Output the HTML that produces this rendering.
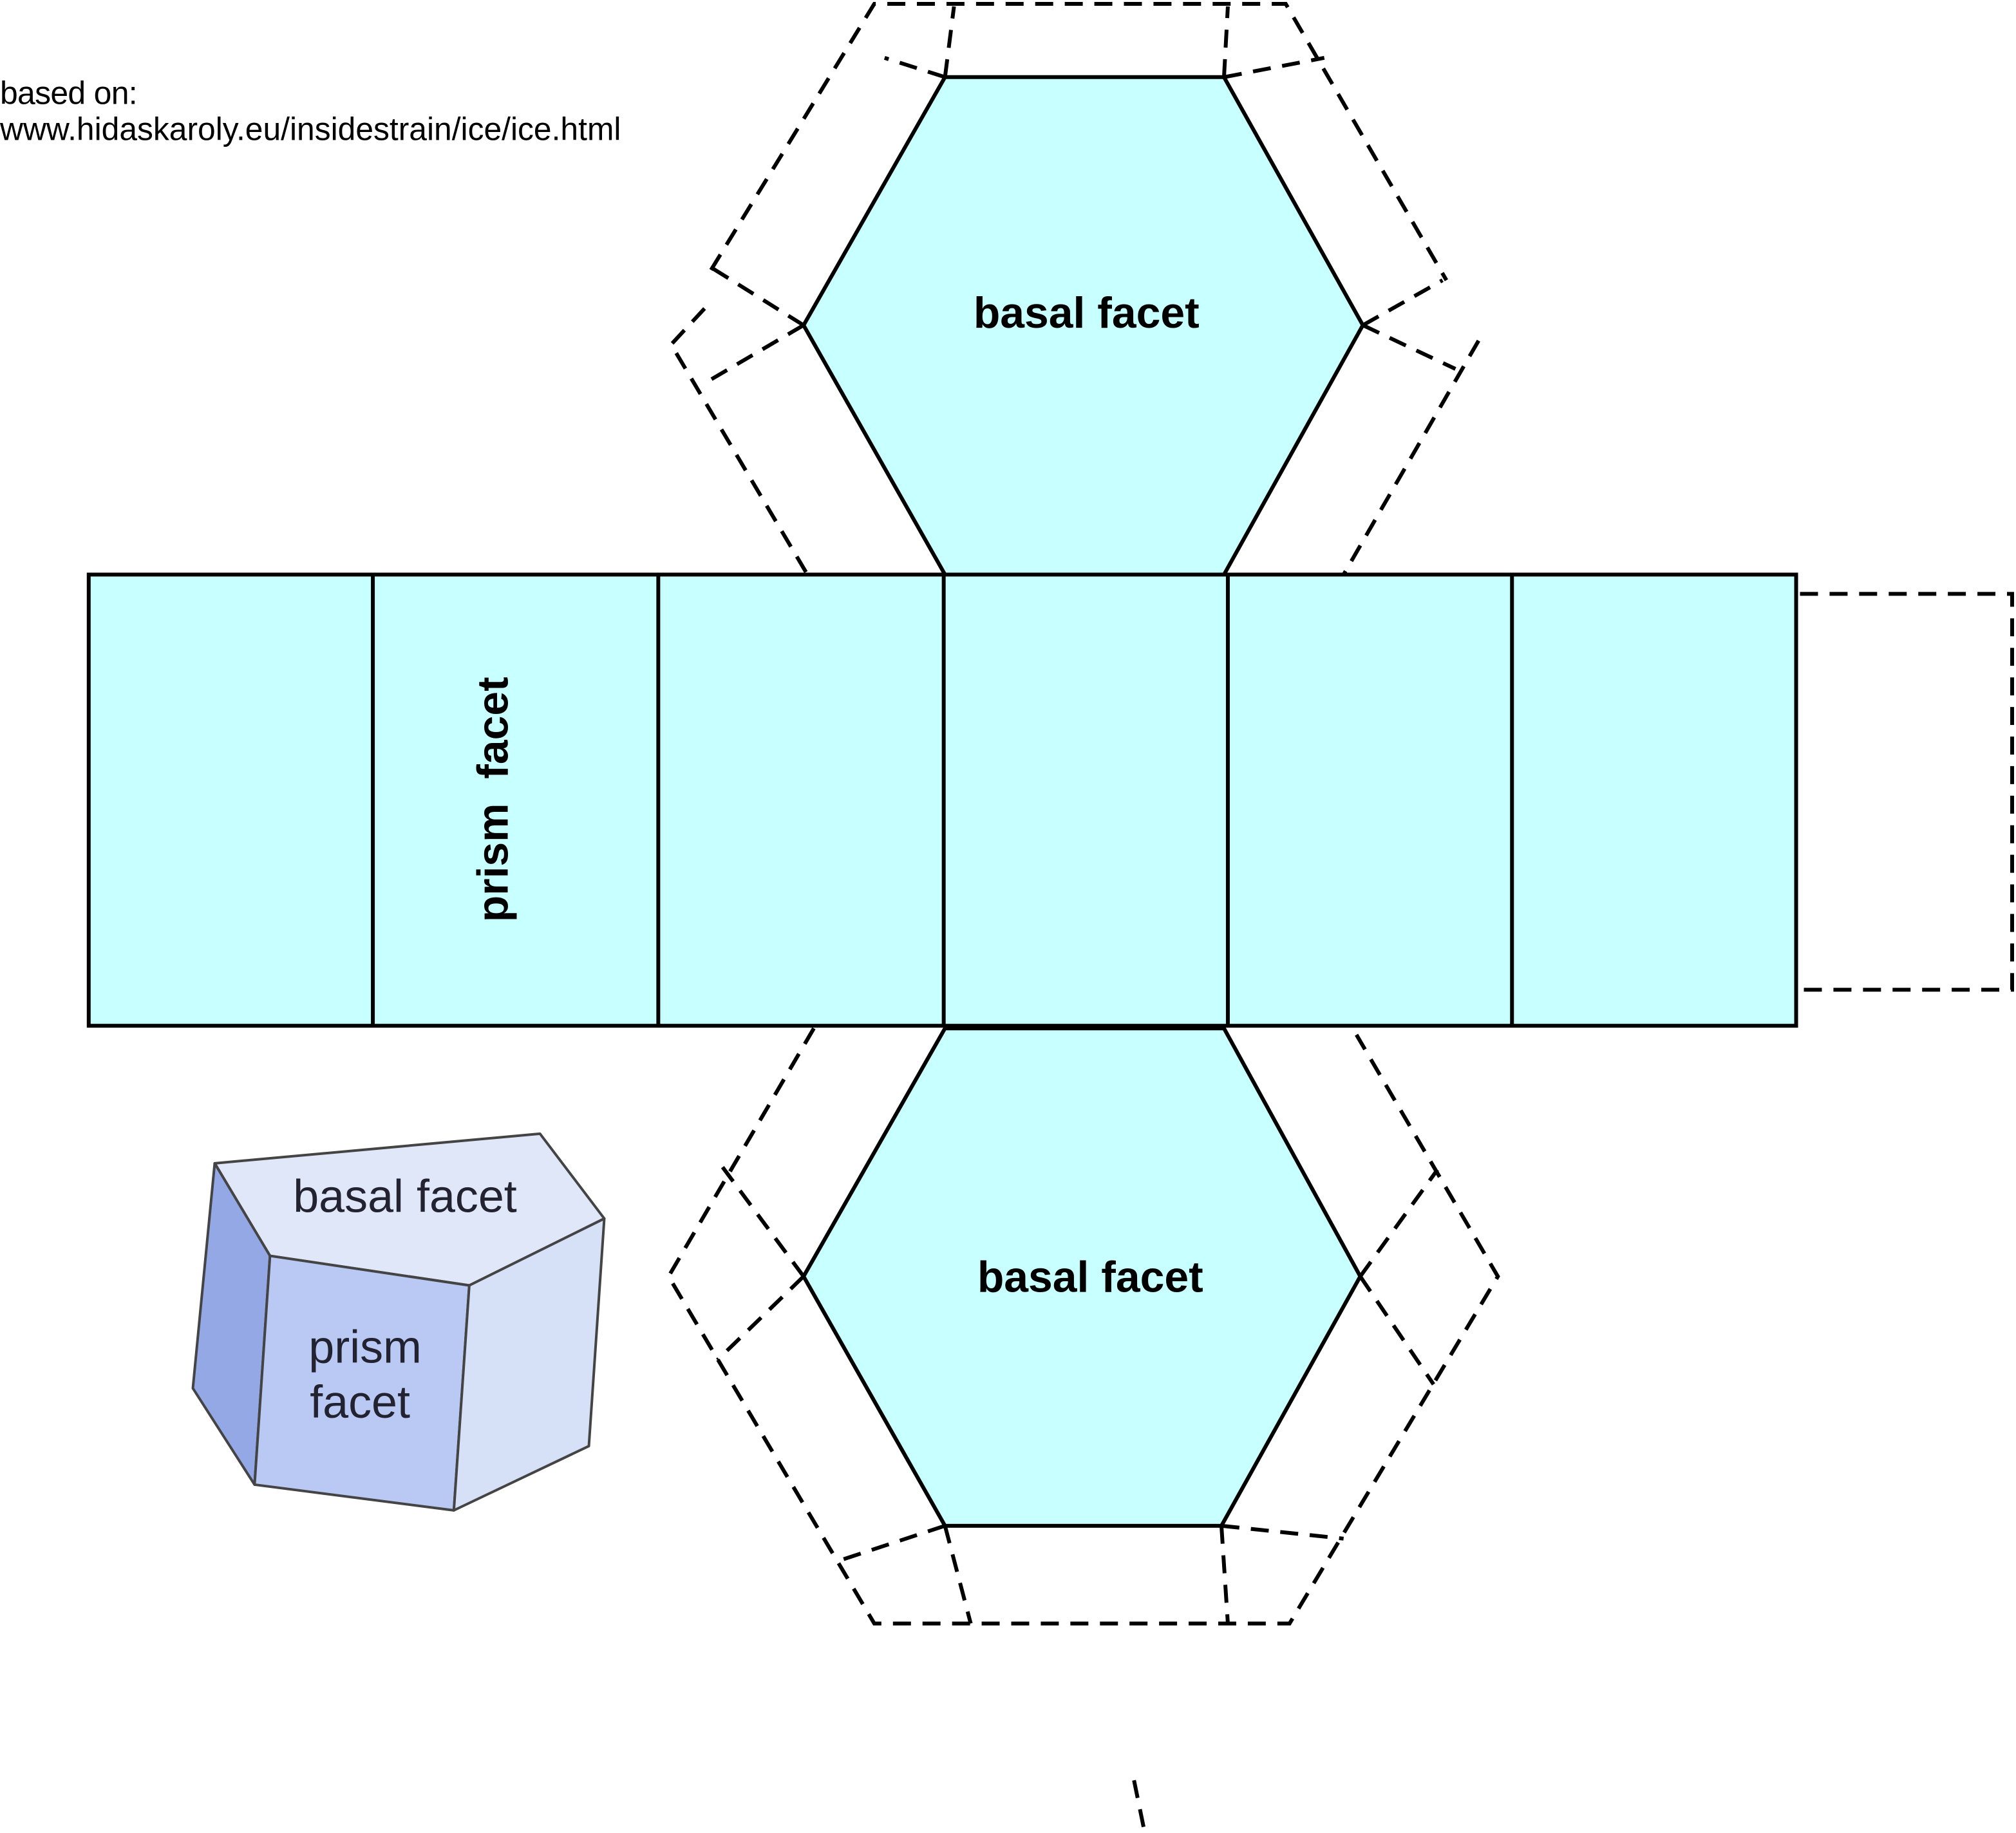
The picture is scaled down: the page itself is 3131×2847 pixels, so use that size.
<!DOCTYPE html>
<html><head><meta charset="utf-8">
<style>
html,body{margin:0;padding:0;background:#fff;}
svg{display:block;}
</style></head>
<body>
<svg width="3131" height="2847" viewBox="0 0 1568 1426" xmlns="http://www.w3.org/2000/svg" preserveAspectRatio="none">
<rect width="1568" height="1426" fill="#fff"/>
<text x="0" y="81" font-family="Liberation Sans, sans-serif" font-size="25" textLength="107" fill="#000">based on:</text>
<text x="0" y="109" font-family="Liberation Sans, sans-serif" font-size="25" textLength="483" lengthAdjust="spacingAndGlyphs" fill="#000">www.hidaskaroly.eu/insidestrain/ice/ice.html</text>

<g fill="none" stroke="#000" stroke-width="3" stroke-dasharray="14,9">
  <polyline points="553,210 680,3 1000,3 1125,218"/>
  <polyline points="548,240 522,268 628,447"/>
  <line x1="1150" y1="265" x2="1045" y2="447"/>
  <line x1="735" y1="60" x2="742" y2="5"/>
  <line x1="735" y1="60" x2="688" y2="45"/>
  <line x1="952" y1="60" x2="955" y2="5"/>
  <line x1="952" y1="60" x2="1030" y2="45"/>
  <line x1="625" y1="253" x2="553" y2="208"/>
  <line x1="625" y1="253" x2="550" y2="297"/>
  <line x1="1060" y1="253" x2="1122" y2="218"/>
  <line x1="1060" y1="253" x2="1132" y2="287"/>
  <polyline points="1400,462 1565,462 1565,770 1400,770"/>
  <polyline points="633,800 520,993 680,1263 1003,1263 1165,993 1055,805"/>
  <line x1="625" y1="993" x2="562" y2="908"/>
  <line x1="625" y1="993" x2="558" y2="1058"/>
  <line x1="1058" y1="993" x2="1118" y2="910"/>
  <line x1="1058" y1="993" x2="1115" y2="1077"/>
  <line x1="735" y1="1187" x2="650" y2="1215"/>
  <line x1="735" y1="1187" x2="755" y2="1263"/>
  <line x1="950" y1="1187" x2="955" y2="1263"/>
  <line x1="950" y1="1187" x2="1045" y2="1197"/>
  <line x1="882" y1="1385" x2="890" y2="1424"/>
</g>

<g stroke="#000" stroke-width="3" fill="#c8ffff">
  <polygon points="735,60 952,60 1060,253 952,447 735,447 625,253"/>
  <polygon points="735,800 952,800 1058,993 950,1187 735,1187 625,993"/>
  <rect x="69" y="447" width="1328" height="351"/>
  <line x1="290" y1="447" x2="290" y2="798"/>
  <line x1="512" y1="447" x2="512" y2="798"/>
  <line x1="734" y1="447" x2="734" y2="798"/>
  <line x1="955" y1="447" x2="955" y2="798"/>
  <line x1="1176" y1="447" x2="1176" y2="798"/>
</g>

<text x="845" y="255" text-anchor="middle" font-family="Liberation Sans, sans-serif" font-weight="bold" font-size="34" fill="#000">basal facet</text>
<text x="848" y="1005" text-anchor="middle" font-family="Liberation Sans, sans-serif" font-weight="bold" font-size="34" fill="#000">basal facet</text>
<text transform="translate(395,622) rotate(-90)" text-anchor="middle" font-family="Liberation Sans, sans-serif" font-weight="bold" font-size="34" fill="#000">prism&#160; facet</text>

<g stroke="#444" stroke-width="2" stroke-linejoin="round">
  <polygon points="167,905 420,882 470,948 365,1000 210,977" fill="#dfe7f9"/>
  <polygon points="167,905 210,977 198,1155 150,1080" fill="#94a8e6"/>
  <polygon points="210,977 365,1000 353,1175 198,1155" fill="#b9c9f4"/>
  <polygon points="365,1000 470,948 458,1125 353,1175" fill="#d6e1f8"/>
</g>
<g font-family="Liberation Sans, sans-serif" font-size="36" fill="#222230" text-anchor="middle">
  <text x="315" y="943">basal facet</text>
  <text x="284" y="1060">prism</text>
  <text x="280" y="1103">facet</text>
</g>
</svg>
</body></html>
